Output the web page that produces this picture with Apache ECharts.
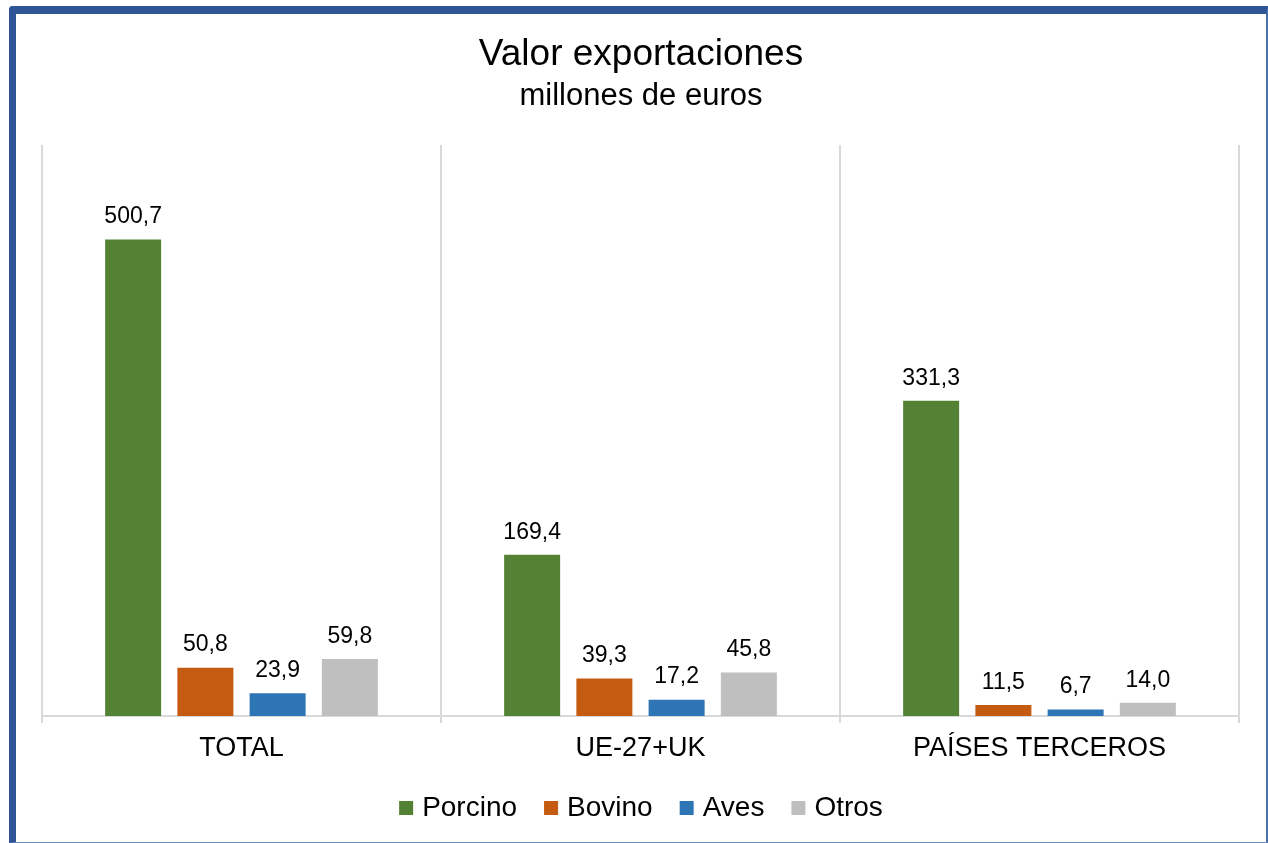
<!DOCTYPE html>
<html>
<head>
<meta charset="utf-8">
<script src="https://cdn.jsdelivr.net/npm/echarts@6/dist/echarts.min.js"></script>
<style>
  html, body { margin: 0; padding: 0; background: #fff; }
  #chart { position: absolute; left: 16px; top: 0; width: 1250px; height: 843px; }
  #frame { position: absolute; left: 9px; top: 6px; width: 1250px; height: 828px;
    border-left: 7px solid #2F5597; border-top: 8px solid #2F5597;
    border-right: 2px solid #4A6FB0; border-bottom: 1px solid #6F8CC4;
    border-top-left-radius: 4px; pointer-events: none; }
</style>
</head>
<body>
<div id="chart"></div>
<div id="frame"></div>
<script>
const categories = ['TOTAL', 'UE-27+UK', 'PAÍSES TERCEROS'];
const seriesNames = ['Porcino', 'Bovino', 'Aves', 'Otros'];
const porcino = [500.7, 169.4, 331.3];
const bovino = [50.8, 39.3, 11.5];
const aves = [23.9, 17.2, 6.7];
const otros = [59.8, 45.8, 14.0];
const colors = ['#548235', '#C55A11', '#2E75B6', '#BFBFBF'];

const values = [porcino, bovino, aves, otros];
const fontFam = '"Liberation Sans", Arial, sans-serif';

const chart = echarts.init(document.getElementById('chart'));
chart.setOption({
  animation: false,
  title: {
    text: 'Valor exportaciones',
    subtext: 'millones de euros',
    left: 'center',
    top: 31,
    itemGap: 8,
    textStyle: { fontFamily: fontFam, fontSize: 37, fontWeight: 'normal', color: '#000' },
    subtextStyle: { fontFamily: fontFam, fontSize: 31, color: '#000' }
  },
  legend: {
    data: seriesNames,
    top: 789,
    left: 'center',
    icon: 'rect',
    itemWidth: 14,
    itemHeight: 14,
    itemGap: 27,
    textStyle: { fontFamily: fontFam, fontSize: 28, color: '#000', padding: [0, 0, 0, 4] }
  },
  grid: { left: 26, right: 27, top: 145, bottom: 127, containLabel: false },
  xAxis: {
    type: 'category',
    data: categories,
    axisLine: { lineStyle: { color: '#D9D9D9', width: 2 } },
    axisTick: { show: true, length: 7, lineStyle: { color: '#D9D9D9', width: 2 } },
    splitLine: { show: true, interval: 0, lineStyle: { color: '#D9D9D9', width: 2 } },
    axisLabel: { margin: 19, fontFamily: fontFam, fontSize: 27, color: '#000' }
  },
  yAxis: { type: 'value', min: 0, max: 600, show: false },
  series: values.map((v, i) => ({
    name: seriesNames[i],
    type: 'bar',
    data: v,
    barWidth: 56,
    barGap: '29%',
    itemStyle: { color: colors[i] },
    label: {
      show: true,
      position: 'top',
      distance: 11,
      fontFamily: fontFam,
      fontSize: 23,
      color: '#000',
      formatter: p => p.value.toFixed(1).replace('.', ',')
    }
  }))
});
</script>
</body>
</html>
